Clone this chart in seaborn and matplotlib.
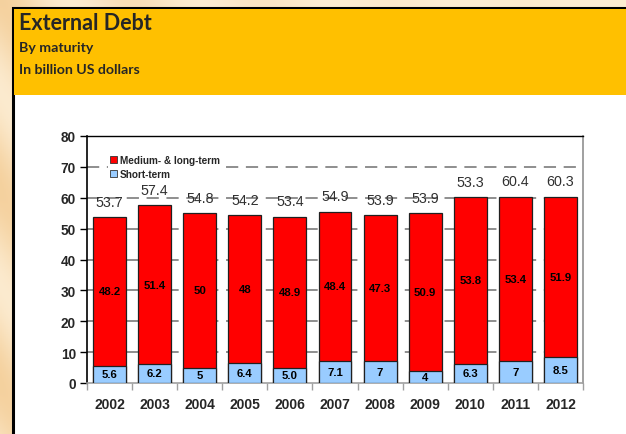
import numpy as np
import pandas as pd
import matplotlib
matplotlib.use("Agg")
import matplotlib.pyplot as plt
from matplotlib.patches import Rectangle
import seaborn as sns

years = ["2002", "2003", "2004", "2005", "2006", "2007", "2008", "2009", "2010", "2011", "2012"]
short_term = [5.6, 6.2, 5.0, 6.4, 5.0, 7.1, 7.0, 4.0, 6.3, 7.0, 8.5]
medium_long = [48.2, 51.4, 50.0, 48.0, 48.9, 48.4, 47.3, 50.9, 53.8, 53.4, 51.9]
short_labels = ["5.6", "6.2", "5", "6.4", "5.0", "7.1", "7", "4", "6.3", "7", "8.5"]
medium_labels = ["48.2", "51.4", "50", "48", "48.9", "48.4", "47.3", "50.9", "53.8", "53.4", "51.9"]
total_labels = ["53.7", "57.4", "54.8", "54.2", "53.4", "54.9", "53.9", "53.9", "53.3", "60.4", "60.3"]
y_ticks = [0, 10, 20, 30, 40, 50, 60, 70, 80]

sns.set_theme(style="white")
plt.rcParams["font.family"] = ["Liberation Sans", "DejaVu Sans"]

RED = "#FF0000"
BLUE = "#99CCFF"

fig = plt.figure(figsize=(6.26, 4.35), dpi=100)

# warm parchment backdrop
bg = fig.add_axes([0, 0, 1, 1], zorder=-10)
gx = np.linspace(0, 1, 300)
gy = np.linspace(0, 1, 200)
X, Y = np.meshgrid(gx, gy)
shade = np.clip(0.55 + 0.45 * np.sin(Y * 14 + X * 30), 0, 1) * np.exp(-X * 3)
c1 = np.array([0.96, 0.82, 0.62])
c2 = np.array([0.99, 0.93, 0.83])
img = c2[None, None, :] * (1 - shade[..., None]) + c1[None, None, :] * shade[..., None]
bg.imshow(img, extent=[0, 1, 0, 1], aspect="auto", origin="lower")
bg.set_xlim(0, 1)
bg.set_ylim(0, 1)
bg.axis("off")

# white panel with yellow header band
L = 13 / 626
T = 1 - 9 / 435
H = 1 - 96 / 435
bg.add_patch(Rectangle((L, -0.01), 1 - L + 0.01, T + 0.01, facecolor="white", edgecolor="black",
                       lw=2.2, zorder=2))
bg.add_patch(Rectangle((L + 0.002, H), 1 - L, T - H - 0.003, facecolor="#FFC000", edgecolor="none",
                       zorder=3))
fig.text(19 / 626, 1 - 24 / 435, "External Debt", fontsize=15.5, fontweight="bold",
         family=["Lato", "DejaVu Sans"], va="center", ha="left")
fig.text(19 / 626, 1 - 48 / 435, "By maturity", fontsize=10.2, fontweight="bold",
         family=["Lato", "DejaVu Sans"], va="center", ha="left")
fig.text(19 / 626, 1 - 70 / 435, "In billion US dollars", fontsize=10.2, fontweight="bold",
         family=["Lato", "DejaVu Sans"], va="center", ha="left")

ax = fig.add_axes([87 / 626, 51 / 435, (583 - 87) / 626, (384 - 137) / 435])
ax.set_facecolor("white")

df = pd.DataFrame({"year": years, "short": short_term, "medium": medium_long})
df["total"] = df["short"] + df["medium"]

sns.barplot(data=df, x="year", y="total", color=RED, width=0.73, edgecolor="#202020",
            linewidth=0.9, saturation=1, ax=ax, zorder=3, label="Medium- & long-term")
sns.barplot(data=df, x="year", y="short", color=BLUE, width=0.73, edgecolor="#202020",
            linewidth=0.9, saturation=1, ax=ax, zorder=4, label="Short-term")

ax.set_xlim(-0.5, len(years) - 0.5)
ax.set_ylim(0, 80)
ax.set_yticks(y_ticks)
ax.set_xlabel("")
ax.set_ylabel("")

for yv in y_ticks[1:-1]:
    ax.axhline(yv, color="#707070", lw=1.1, ls=(0, (8, 5)), zorder=1)

for i in range(len(years)):
    ax.text(i, short_term[i] / 2, short_labels[i], ha="center", va="center",
            fontsize=8.2, fontweight="bold", color="black", zorder=6)
    ax.text(i, short_term[i] + medium_long[i] / 2, medium_labels[i], ha="center", va="center",
            fontsize=8.2, fontweight="bold", color="black", zorder=6)
    ax.annotate(total_labels[i], (i, short_term[i] + medium_long[i]), xytext=(0, 11),
                textcoords="offset points", ha="center", va="center", fontsize=10.3,
                color="#303030", zorder=6)

ax.tick_params(axis="y", which="major", left=True, length=5, width=1, color="black",
               labelsize=9.8, pad=3)
for t in ax.get_yticklabels():
    t.set_fontweight("bold")
ax.tick_params(axis="x", which="major", bottom=False, labelsize=10, pad=4)
for t in ax.get_xticklabels():
    t.set_fontweight("bold")
ax.set_xticks(np.arange(-0.5, len(years), 1.0), minor=True)
ax.tick_params(axis="x", which="minor", bottom=True, length=5, width=1, color="#a0a0a0")

ax.spines["left"].set_color("black")
ax.spines["left"].set_linewidth(1.2)
ax.spines["top"].set_color("black")
ax.spines["top"].set_linewidth(1.0)
ax.spines["right"].set_color("#909090")
ax.spines["right"].set_linewidth(1.2)
ax.spines["bottom"].set_color("#a0a0a0")
ax.spines["bottom"].set_linewidth(1.2)

leg = ax.legend(loc="upper left", bbox_to_anchor=(0.042, 0.93), frameon=True, fontsize=7.2,
                handlelength=0.7, handleheight=0.7, handletextpad=0.3, labelspacing=0.35,
                borderpad=0.2, borderaxespad=0)
leg.get_frame().set_facecolor("white")
leg.get_frame().set_edgecolor("none")
leg.get_frame().set_alpha(1)
for t in leg.get_texts():
    t.set_fontweight("bold")
for h in leg.legend_handles:
    h.set_edgecolor("#333333")
    h.set_linewidth(0.6)
leg.set_zorder(7)

fig.savefig("out.png", dpi=100)
